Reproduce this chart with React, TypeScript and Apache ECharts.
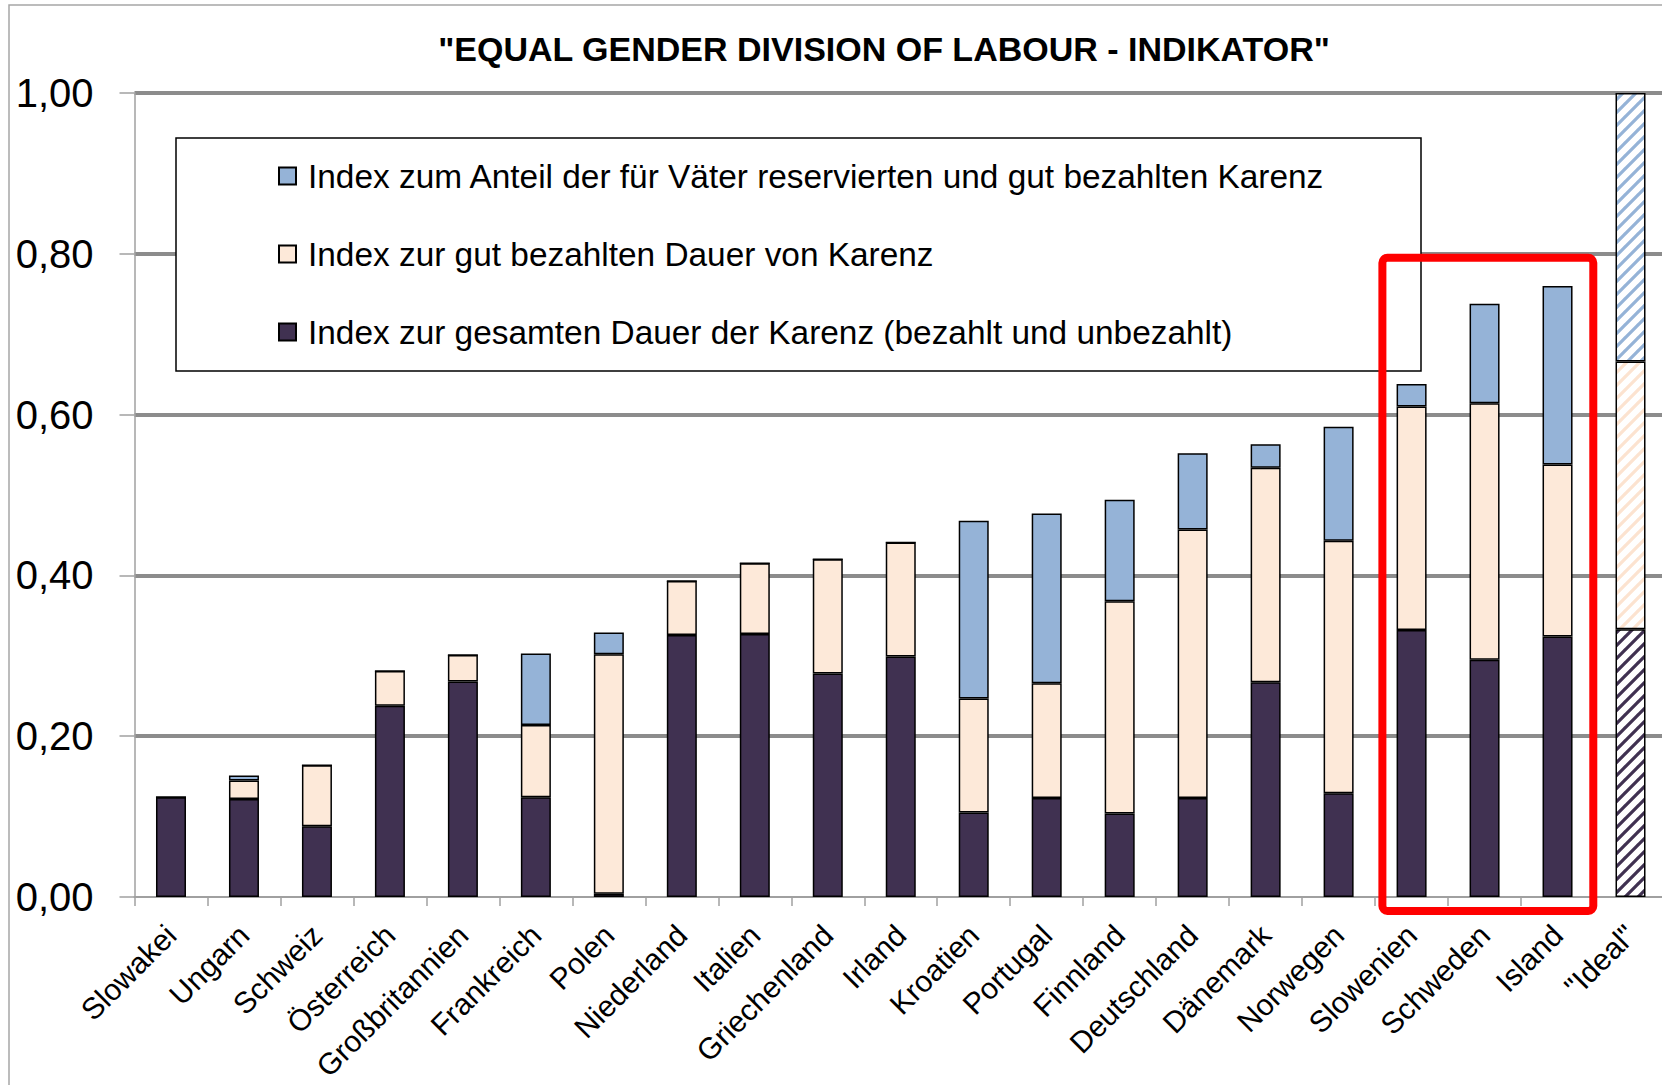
import React, { useEffect, useRef } from "react";
import * as echarts from "echarts";

const categories = [
  "Slowakei", "Ungarn", "Schweiz", "Österreich", "Großbritannien", "Frankreich", "Polen",
  "Niederland", "Italien", "Griechenland", "Irland", "Kroatien", "Portugal", "Finnland",
  "Deutschland", "Dänemark", "Norwegen", "Slowenien", "Schweden", "Island", '"Ideal"',
];

// Index zur gesamten Dauer der Karenz (bezahlt und unbezahlt)
const totalDuration = [
  0.124, 0.122, 0.088, 0.238, 0.268, 0.124, 0.004, 0.326, 0.327, 0.278, 0.299,
  0.105, 0.123, 0.104, 0.123, 0.267, 0.129, 0.332, 0.295, 0.324, 0.333,
];
// Index zur gut bezahlten Dauer von Karenz
const paidDuration = [
  0, 0.023, 0.076, 0.043, 0.033, 0.090, 0.298, 0.067, 0.088, 0.142, 0.142,
  0.142, 0.143, 0.264, 0.334, 0.267, 0.314, 0.278, 0.319, 0.214, 0.333,
];
// Index zum Anteil der für Väter reservierten und gut bezahlten Karenz
const fathersShare = [
  0, 0.006, 0, 0, 0, 0.089, 0.027, 0, 0, 0, 0,
  0.221, 0.211, 0.126, 0.095, 0.029, 0.142, 0.028, 0.124, 0.222, 0.334,
];

const yTicks = [0, 0.2, 0.4, 0.6, 0.8, 1.0];

const seriesNames = [
  "Index zur gesamten Dauer der Karenz (bezahlt und unbezahlt)",
  "Index zur gut bezahlten Dauer von Karenz",
  "Index zum Anteil der für Väter reservierten und gut bezahlten Karenz",
];
const seriesColors = ["#403151", "#FDE9D9", "#95B3D7"];
const hatchColors = ["#403151", "#FCE3D0", "#95B3D7"];
const seriesValues = [totalDuration, paidDuration, fathersShare];
const highlightFrom = "Slowenien";
const highlightTo = "Island";

const FONT = "Liberation Sans";

function makeHatch(color: string) {
  const s = 13;
  const c = document.createElement("canvas");
  c.width = s;
  c.height = s;
  const ctx = c.getContext("2d")!;
  ctx.fillStyle = "#ffffff";
  ctx.fillRect(0, 0, s, s);
  ctx.strokeStyle = color;
  ctx.lineWidth = 3.2;
  ctx.lineCap = "square";
  for (let k = -1; k <= 1; k++) {
    ctx.beginPath();
    ctx.moveTo(k * s, s);
    ctx.lineTo(k * s + s, 0);
    ctx.stroke();
  }
  return { image: c, repeat: "repeat" };
}

export default function App() {
  const ref = useRef<HTMLDivElement>(null);

  useEffect(() => {
    if (!ref.current) return;
    const chart = echarts.init(ref.current, null, { renderer: "svg" });
    const lastIdx = categories.length - 1;

    const series = seriesValues.map((vals, si) => ({
      name: seriesNames[si],
      type: "bar",
      stack: "total",
      barWidth: 30,
      itemStyle: { color: seriesColors[si], borderColor: "#000", borderWidth: 1.5 },
      emphasis: { disabled: true },
      data: vals.map((v, i) =>
        i === lastIdx
          ? {
              value: v,
              itemStyle: { color: makeHatch(hatchColors[si]), borderColor: "#000", borderWidth: 1.5 },
            }
          : v
      ),
    }));

    const option: any = {
      animation: false,
      backgroundColor: "#ffffff",
      title: {
        text: '"EQUAL GENDER DIVISION OF LABOUR - INDIKATOR"',
        left: 884,
        top: 30,
        padding: 0,
        textAlign: "center",
        textStyle: { fontFamily: FONT, fontWeight: "bold", fontSize: 34, color: "#000", lineHeight: 38 },
      },
      legend: {
        orient: "vertical",
        left: 278,
        top: 156,
        padding: 0,
        itemWidth: 17,
        itemHeight: 17,
        itemGap: 38,
        icon: "rect",
        selectedMode: false,
        data: [seriesNames[2], seriesNames[1], seriesNames[0]],
        textStyle: { fontFamily: FONT, fontSize: 33.4, color: "#000", lineHeight: 40, padding: [0, 0, 0, 7] },
        z: 6,
      },
      grid: { left: 134.5, right: 3, top: 93, bottom: 188, containLabel: false },
      xAxis: {
        type: "category",
        data: categories,
        axisLine: { show: true, lineStyle: { color: "#a0a0a0", width: 2 } },
        axisTick: { show: true, interval: 0, length: 9, lineStyle: { color: "#a0a0a0", width: 1.5 } },
        axisLabel: {
          interval: 0,
          rotate: 45,
          margin: 33,
          fontFamily: FONT,
          fontSize: 30,
          color: "#000",
        },
      },
      yAxis: {
        type: "value",
        min: yTicks[0],
        max: yTicks[yTicks.length - 1],
        interval: 0.2,
        axisLine: { show: true, lineStyle: { color: "#a0a0a0", width: 1.5 } },
        axisTick: { show: true, length: 15, lineStyle: { color: "#a0a0a0", width: 1.5 } },
        axisLabel: {
          margin: 41,
          fontFamily: FONT,
          fontSize: 40,
          color: "#000",
          formatter: (v: number) => v.toFixed(2).replace(".", ","),
        },
        splitLine: { show: true, showMinLine: false, lineStyle: { color: "#8c8c8c", width: 4 } },
      },
      graphic: [
        {
          id: "frame",
          type: "rect",
          silent: true,
          z: 0,
          shape: { x: 9, y: 5, width: 1700, height: 1200 },
          style: { fill: "none", stroke: "#a6a6a6", lineWidth: 1.5 },
        },
        {
          id: "legendBox",
          type: "rect",
          silent: true,
          z: 3,
          shape: { x: 176, y: 138, width: 1245, height: 233 },
          style: { fill: "#ffffff", stroke: "#000", lineWidth: 1.5 },
        },
      ],
      series,
    };

    chart.setOption(option);

    // red highlight box around the three leading countries, placed via the axes
    const i0 = categories.indexOf(highlightFrom);
    const i1 = categories.indexOf(highlightTo);
    const pA = chart.convertToPixel({ gridIndex: 0 }, [i0, 0.795]) as number[];
    const pB = chart.convertToPixel({ gridIndex: 0 }, [i1, 0]) as number[];
    const pC = chart.convertToPixel({ gridIndex: 0 }, [i0 + 1, 0]) as number[];
    const band = pC[0] - pA[0];
    const x0 = pA[0] - band * 0.4;
    const x1 = pB[0] + band * 0.49;
    const y0 = pA[1];
    const y1 = pB[1] + 14;
    chart.setOption({
      graphic: [
        {
          id: "redBox",
          type: "rect",
          silent: true,
          z: 10,
          shape: { x: x0, y: y0, width: x1 - x0, height: y1 - y0, r: 5 },
          style: { fill: "none", stroke: "#ff0000", lineWidth: 8 },
        },
      ],
    });

    return () => chart.dispose();
  }, []);

  return (
    <div
      ref={ref}
      style={{ position: "fixed", left: 0, top: 0, width: 1670, height: 1085, background: "#fff" }}
    />
  );
}
